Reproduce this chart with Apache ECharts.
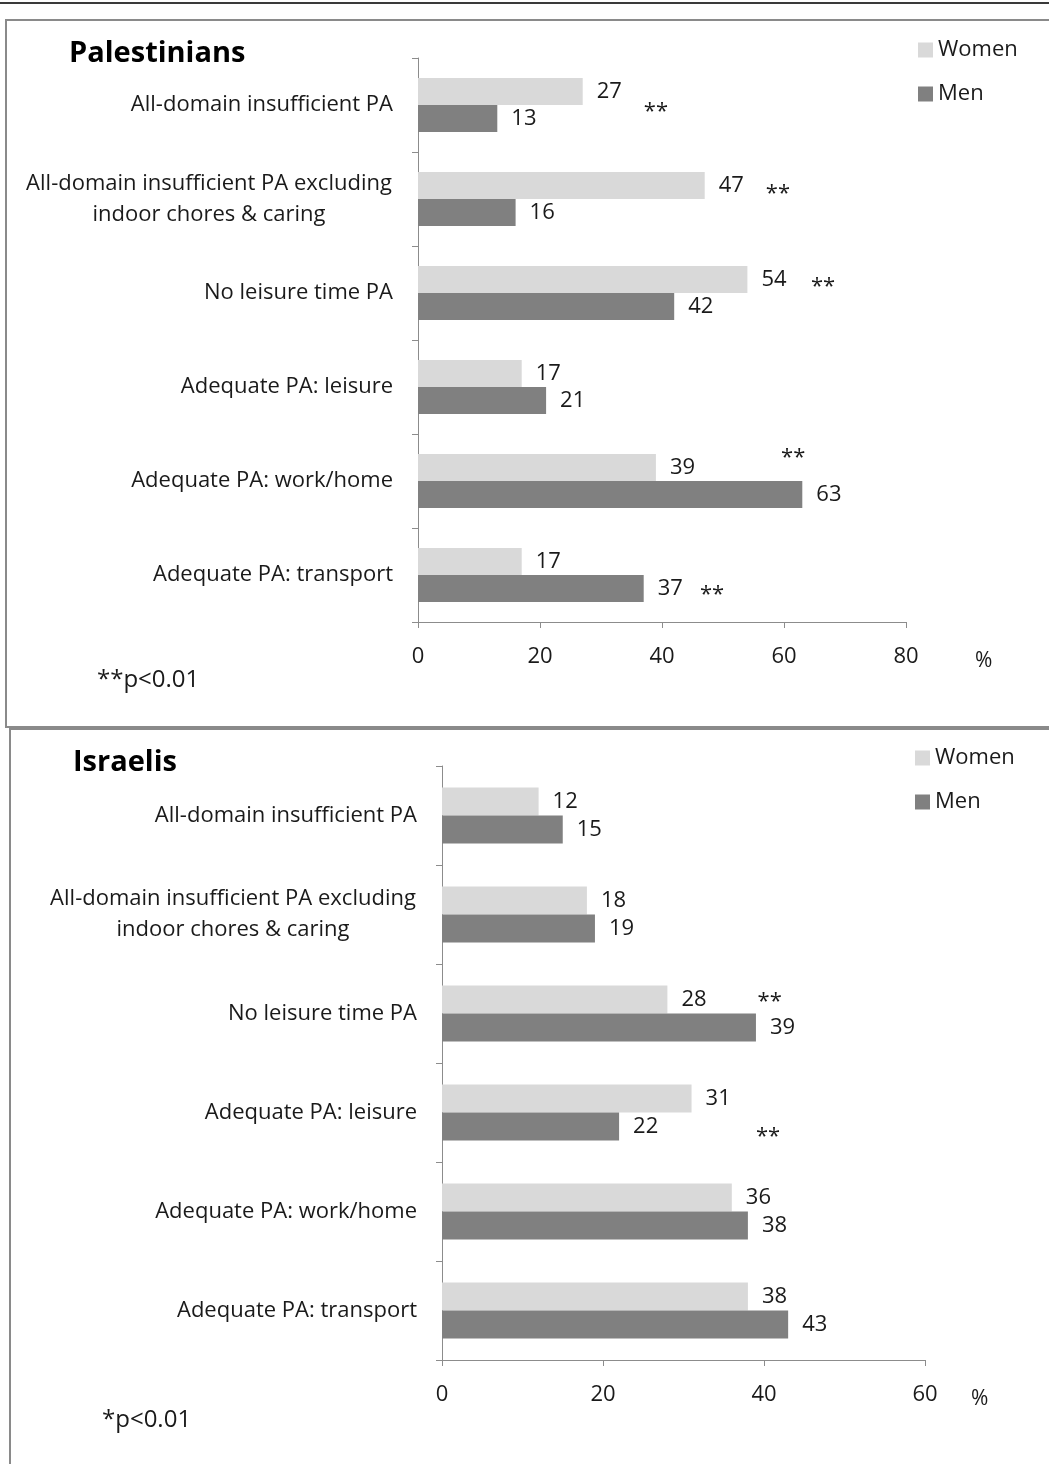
<!DOCTYPE html>
<html>
<head>
<meta charset="utf-8">
<script src="https://cdn.jsdelivr.net/npm/echarts@6/dist/echarts.min.js"></script>
<style>html,body{margin:0;padding:0;background:#fff}#c{width:1049px;height:1464px}</style>
</head>
<body>
<div id="c"></div>
<script>
const categories = [
  'All-domain insufficient PA',
  'All-domain insufficient PA excluding\nindoor chores & caring',
  'No leisure time PA',
  'Adequate PA: leisure',
  'Adequate PA: work/home',
  'Adequate PA: transport'
];
const seriesNames = ['Women', 'Men'];
const palWomen = [27, 47, 54, 17, 39, 17];
const palMen = [13, 16, 42, 21, 63, 37];
const isrWomen = [12, 18, 28, 31, 36, 38];
const isrMen = [15, 19, 39, 22, 38, 43];
const palAxisMax = 80;
const isrAxisMax = 60;
const axisStep = 20;
const panelTitles = ['Palestinians', 'Israelis'];
const footnotes = ['**p<0.01', '*p<0.01'];
// significance marks: [category index, value-axis position, vertical nudge]
const palStars = [[0, 39, 1], [1, 59, -11], [2, 66.4, -12], [4, 61.5, -29], [5, 48.2, 14]];
const isrStars = [[2, 40.7, -18], [3, 40.5, 18]];

const FONT = '"Open Sans", "Noto Sans", sans-serif';
const TXT = '#1a1a1a';
const AX = '#8c8c8c';
const WOMEN_C = '#d9d9d9';
const MEN_C = '#808080';
const FS = 22;

const chart = echarts.init(document.getElementById('c'), null, {renderer: 'canvas'});

function xAxisFor(gi, max, gap) {
  return {
    type: 'value', gridIndex: gi, min: 0, max: max, interval: axisStep,
    name: '%', nameLocation: 'end', nameGap: gap,
    nameTextStyle: {color: TXT, fontFamily: FONT, fontSize: 21, verticalAlign: 'top', padding: [29, 0, 0, 0]},
    axisLine: {show: true, lineStyle: {color: AX, width: 1}},
    axisTick: {show: true, length: 6, lineStyle: {color: AX}},
    axisLabel: {color: TXT, fontFamily: FONT, fontSize: FS, margin: 24},
    splitLine: {show: false}
  };
}
function yAxisFor(gi) {
  return {
    type: 'category', gridIndex: gi, data: categories, inverse: true,
    axisLine: {show: true, lineStyle: {color: AX, width: 1}},
    axisTick: {show: true, length: 6, lineStyle: {color: AX}},
    axisLabel: {color: TXT, fontFamily: FONT, fontSize: FS, margin: 25, lineHeight: 31, align: 'right',
      formatter: function (v) {
        if (v.indexOf('\n') < 0) return v;
        return v.split('\n').map(function (l) { return '{c|' + l + '}'; }).join('\n');
      },
      rich: {c: {width: 368, align: 'center', fontFamily: FONT, fontSize: FS, lineHeight: 31, color: TXT}}
    }
  };
}
function barFor(name, gi, data, color, w) {
  return {
    type: 'bar', name: name, xAxisIndex: gi, yAxisIndex: gi, data: data,
    barWidth: w, barGap: '0%',
    itemStyle: {color: color},
    label: {show: true, position: 'right', distance: 14, color: TXT, fontFamily: FONT, fontSize: FS},
    emphasis: {disabled: true}, silent: true
  };
}

const option = {
  animation: false,
  backgroundColor: '#fff',
  textStyle: {fontFamily: FONT},
  title: [
    {text: panelTitles[0], left: 64, top: 34, textStyle: {fontFamily: FONT, fontSize: 29, fontWeight: 'bold', color: '#000'}},
    {text: panelTitles[1], left: 68, top: 743, textStyle: {fontFamily: FONT, fontSize: 29, fontWeight: 'bold', color: '#000'}}
  ],
  legend: [
    {data: seriesNames, orient: 'vertical', left: 913, top: 34, itemWidth: 15, itemHeight: 15, itemGap: 22, icon: 'rect',
      selectedMode: false, textStyle: {fontFamily: FONT, fontSize: FS, color: TXT}},
    {data: seriesNames, orient: 'vertical', left: 910, top: 742, itemWidth: 15, itemHeight: 15, itemGap: 22, icon: 'rect',
      selectedMode: false, textStyle: {fontFamily: FONT, fontSize: FS, color: TXT}}
  ],
  grid: [
    {left: 418, right: 1049 - 906, top: 58, height: 564, containLabel: false},
    {left: 442, right: 1049 - 925, top: 766, height: 594, containLabel: false}
  ],
  xAxis: [xAxisFor(0, palAxisMax, 69), xAxisFor(1, isrAxisMax, 46)],
  yAxis: [yAxisFor(0), yAxisFor(1)],
  series: [
    barFor(seriesNames[0], 0, palWomen, WOMEN_C, 27),
    barFor(seriesNames[1], 0, palMen, MEN_C, 27),
    barFor(seriesNames[0], 1, isrWomen, WOMEN_C, 28),
    barFor(seriesNames[1], 1, isrMen, MEN_C, 28)
  ],
  graphic: [
    {type: 'line', id: 'topline', shape: {x1: 0, y1: 3, x2: 1049, y2: 3}, style: {stroke: '#3a3a3a', lineWidth: 2}, silent: true},
    {type: 'rect', id: 'box1', shape: {x: 6, y: 20, width: 1100, height: 707}, style: {fill: 'none', stroke: '#8a8a8a', lineWidth: 2}, silent: true},
    {type: 'rect', id: 'box2', shape: {x: 10, y: 729, width: 1100, height: 800}, style: {fill: 'none', stroke: '#8a8a8a', lineWidth: 2}, silent: true},
    {type: 'text', id: 'fn1', left: 97, top: 668, style: {text: footnotes[0], fill: TXT, font: '24px ' + FONT}, silent: true},
    {type: 'text', id: 'fn2', left: 102, top: 1408, style: {text: footnotes[1], fill: TXT, font: '24px ' + FONT}, silent: true}
  ]
};
chart.setOption(option);

const extra = [];
[[palStars, 0], [isrStars, 1]].forEach(function (pair) {
  pair[0].forEach(function (s, i) {
    const p = chart.convertToPixel({gridIndex: pair[1]}, [s[1], s[0]]);
    extra.push({type: 'text', id: 'star' + pair[1] + '_' + i, x: p[0], y: p[1] + s[2] + 6,
      style: {text: '**', fill: TXT, font: FS + 'px ' + FONT, textAlign: 'center', textVerticalAlign: 'middle'}, silent: true});
  });
});
chart.setOption({graphic: extra});
</script>
</body>
</html>
